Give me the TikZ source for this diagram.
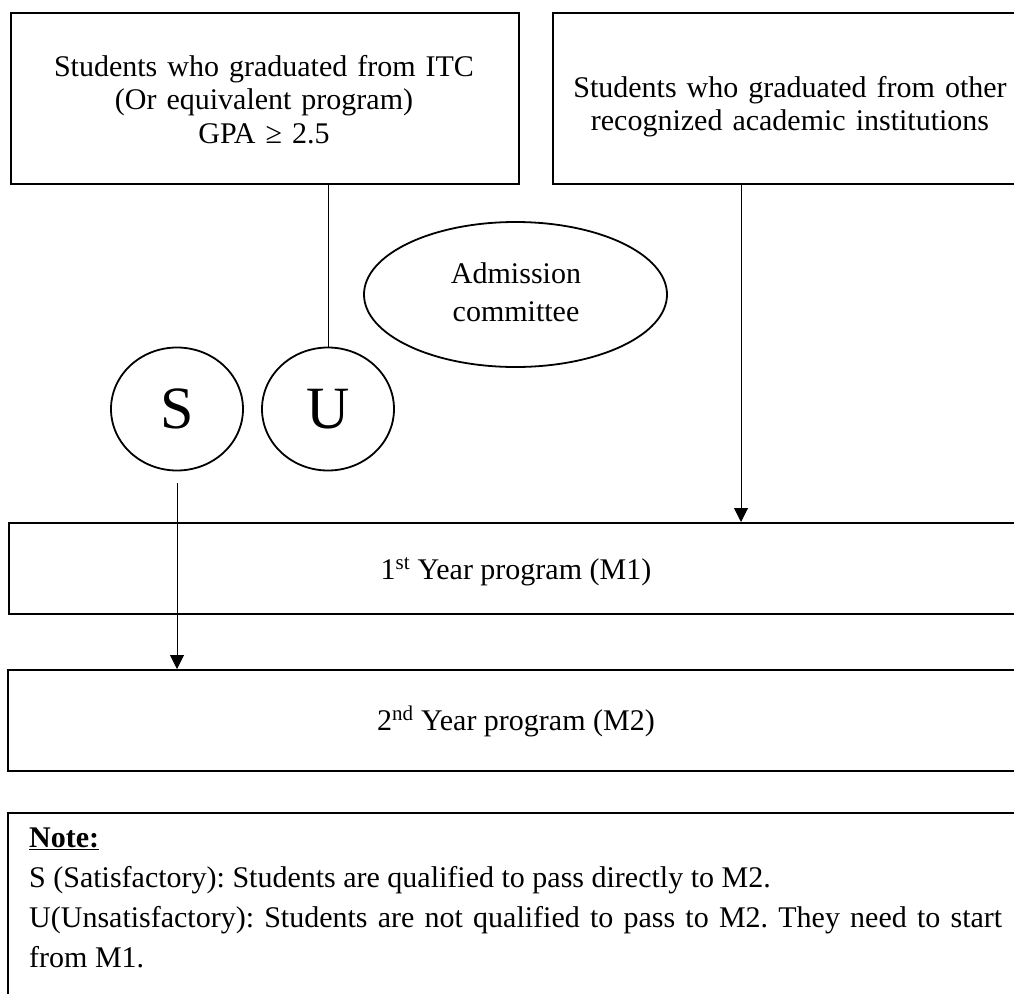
\documentclass[tikz,border=0pt]{standalone}
\usepackage{fontspec}
\setmainfont{Liberation Serif}
\usetikzlibrary{arrows.meta,shapes.geometric,calc}
\frenchspacing
\begin{document}
\begin{tikzpicture}[x=1pt,y=-1pt,
  box/.style={draw, line width=2pt, rectangle, inner sep=0pt, anchor=north west},
  txt/.style={font=\fontsize{30}{33.5}\selectfont, inner sep=0pt, align=center},
  circ/.style={draw, ellipse, line width=1.8pt, minimum width=132pt, minimum height=123pt, inner sep=0pt, font=\fontsize{60}{60}\selectfont},
  conn/.style={line width=1pt},
  arr/.style={line width=1pt, -{Triangle[length=14pt,width=14pt]}}]
\useasboundingbox (0,0) rectangle (1014,993);
\clip (0,0) rectangle (1014,993);
\fill[white] (0,0) rectangle (1014,993);

% top boxes
\node[box, minimum width=508pt, minimum height=171pt] (itc) at (10,12) {};
\node[txt, anchor=base, text width=500pt] (itct) at (264,76)
  {Students who graduated from ITC\\(Or equivalent program)\\GPA ≥ 2.5};
\node[box, minimum width=476pt, minimum height=171pt] (oth) at (552,12) {};
\node[txt, anchor=base, text width=470pt, font=\fontsize{30}{33}\selectfont] (otht) at (790,97)
  {Students who graduated from other\\recognized academic institutions};

% admission committee
\node[draw, ellipse, line width=1.8pt, minimum width=303pt, minimum height=145pt, inner sep=0pt] (adm) at (515.5,294.5) {};
\node[txt, anchor=base, text width=240pt, font=\fontsize{30}{38.5}\selectfont] (admt) at (516,283) {Admission\\committee};

% S and U
\node[circ] (s) at (177,409) {S};
\node[circ] (u) at (328,409) {U};

% program boxes
\node[box, minimum width=1016pt, minimum height=91pt] (m1) at (8,522) {};
\node[txt, anchor=base] (m1t) at (516,579) {1\textsuperscript{st} Year program (M1)};
\node[box, minimum width=1017pt, minimum height=101pt] (m2) at (7,669) {};
\node[txt, anchor=base] (m2t) at (516,730) {2\textsuperscript{nd} Year program (M2)};

% note
\node[box, minimum width=1020pt, minimum height=200pt] (note) at (7,812) {};
\node[anchor=base west, text width=973pt, align=justify, inner sep=0pt,
      font=\fontsize{30}{40}\selectfont] (notet) at (29,847)
  {\underline{\textbf{Note:}}\par
   S (Satisfactory): Students are qualified to pass directly to M2.\par
   U(Unsatisfactory): Students are not qualified to pass to M2. They need to start\linebreak
   from M1.};

% connectors
\draw[conn] (u.north) -- (u.north |- itc.south);
\draw[arr] ([xshift=-50pt]oth.south) -- ([xshift=-50pt]oth.south |- m1.north);
\draw[arr] ([yshift=-12pt]s.south) -- (s.south |- m2.north);
\end{tikzpicture}
\end{document}
